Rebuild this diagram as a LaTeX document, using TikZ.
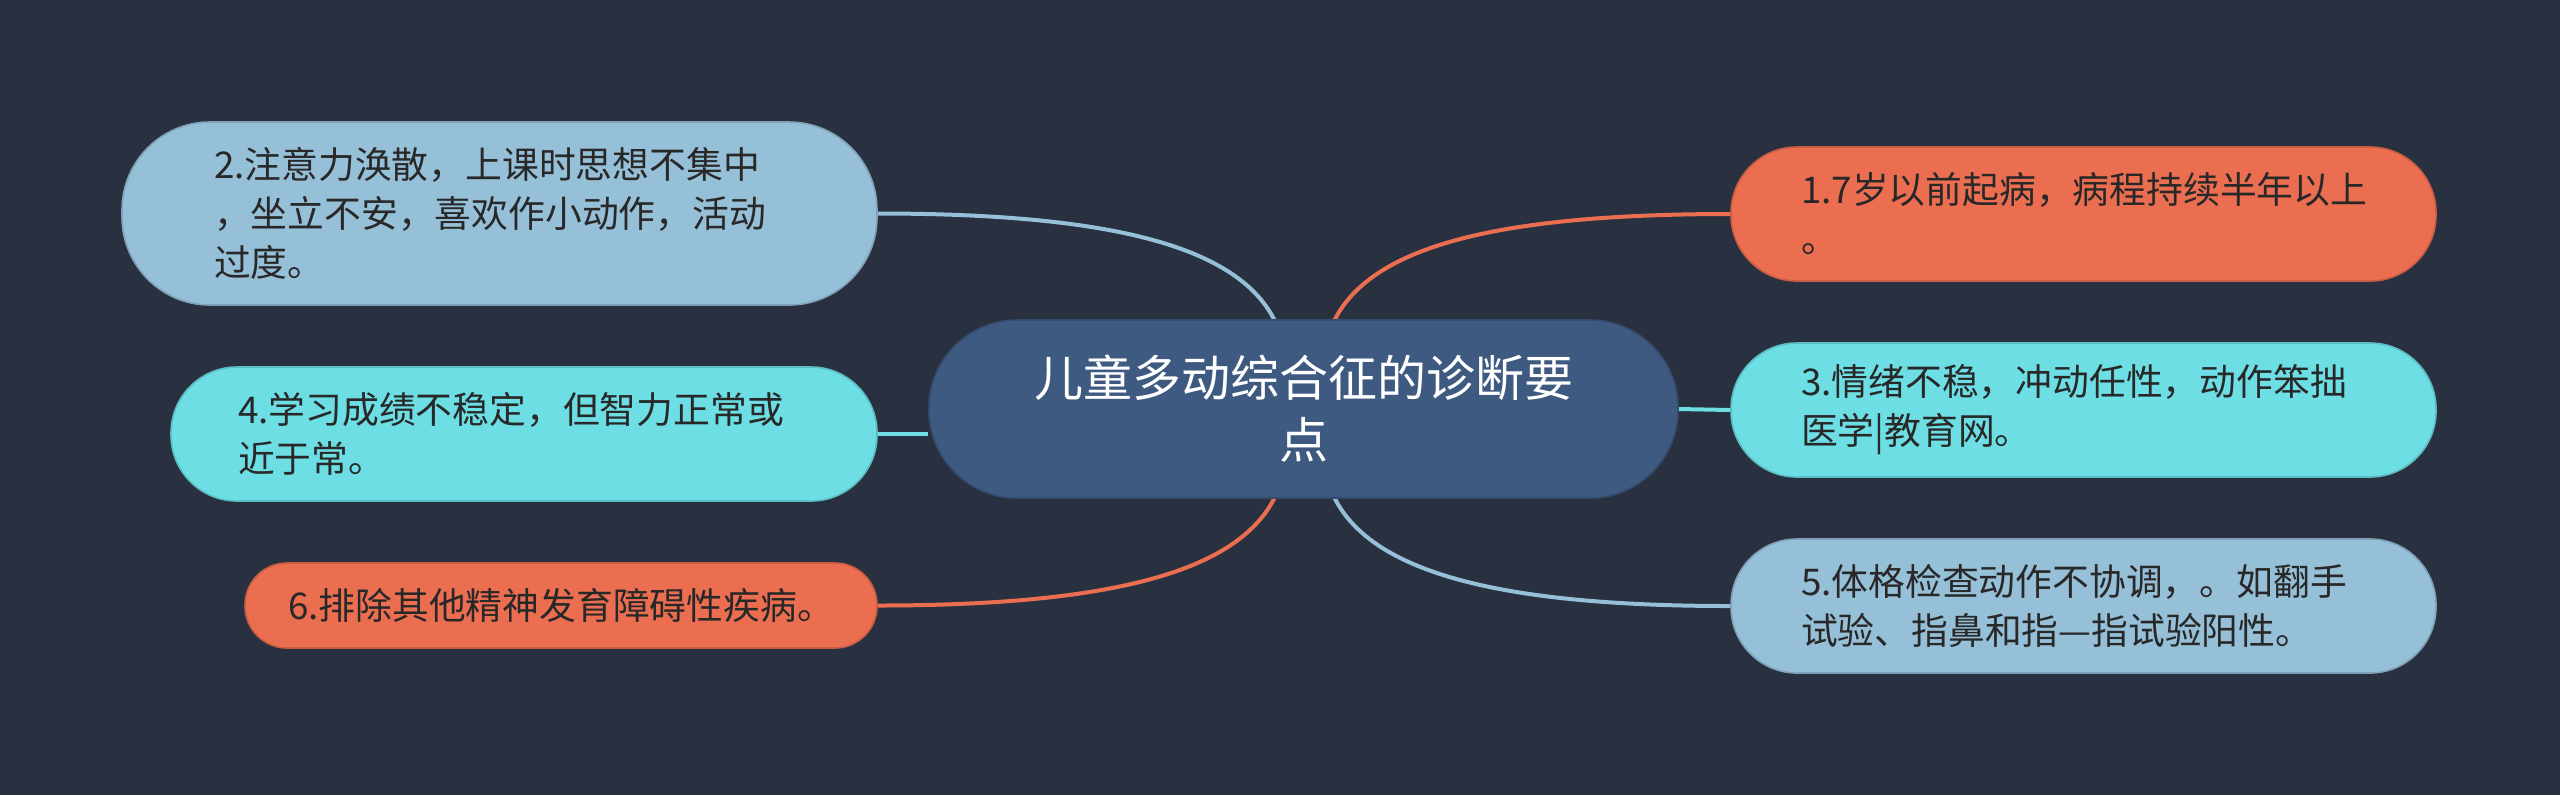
\documentclass[tikz,border=0pt]{standalone}
\usepackage{fontspec}
\setmainfont{Noto Sans CJK SC}
\usetikzlibrary{calc}
\definecolor{bgc}{RGB}{41,49,65}
\definecolor{ctrc}{RGB}{62,90,128}
\definecolor{orgc}{RGB}{236,110,80}
\definecolor{cync}{RGB}{108,222,228}
\definecolor{lblc}{RGB}{150,191,216}
\definecolor{txtc}{RGB}{40,40,40}
\pgfdeclarelayer{bglayer}
\pgfdeclarelayer{edgelayer}
\pgfsetlayers{bglayer,edgelayer,main}
\tikzset{
  leaf/.style={rectangle, text=txtc, align=left, inner ysep=0pt,
    font=\fontsize{9.2}{12.25}\selectfont, line width=0.4pt},
  big/.style={leaf, minimum width=176.25pt, minimum height=33.5pt,
    text width=141.25pt, inner xsep=17.5pt, rounded corners=16.5pt},
  hub/.style={rectangle, fill=ctrc, draw=ctrc!85!black, line width=0.4pt, text=white,
    align=center, minimum width=187.25pt, minimum height=44.5pt,
    rounded corners=22pt, font=\fontsize{12.25}{15.5}\selectfont},
  link/.style={line width=1pt}
}
\begin{document}
\begin{tikzpicture}[x=0.25pt,y=-0.25pt]
\begin{pgfonlayer}{bglayer}
\fill[bgc] (0,0) rectangle (2560,795);
\end{pgfonlayer}
\useasboundingbox (0,0) rectangle (2560,795);

\node[hub] (c) at (1303.5,409) {儿童多动综合征的诊断要\\点};

\node[leaf, fill=lblc, draw=lblc!85!black, minimum width=188.75pt, minimum height=45.75pt,
  text width=142.75pt, inner xsep=23pt, rounded corners=22pt] (n2) at (499.5,213.5)
  {2.注意力涣散，上课时思想不集中\\，坐立不安，喜欢作小动作，活动\\过度。};
\node[leaf, big, fill=cync, draw=cync!85!black, minimum width=176.5pt, text width=143pt,
  inner xsep=16.75pt] (n4) at (524,434)
  {4.学习成绩不稳定，但智力正常或\\近于常。};
\node[leaf, fill=orgc, draw=orgc!85!black, align=center, minimum width=158pt,
  minimum height=21.25pt, rounded corners=10.5pt] (n6) at (561,605.5)
  {6.排除其他精神发育障碍性疾病。};

\node[big, fill=orgc, draw=orgc!85!black] (n1) at (2083.5,214)
  {1.7岁以前起病，病程持续半年以上\\。};
\node[big, fill=cync, draw=cync!85!black] (n3) at (2083.5,410)
  {3.情绪不稳，冲动任性，动作笨拙\\医学|教育网。};
\node[big, fill=lblc, draw=lblc!85!black] (n5) at (2083.5,606)
  {5.体格检查动作不协调，。如翻手\\试验、指鼻和指—指试验阳性。};

\coordinate (ctl) at ($(c.north)+(-27.5,4)$);
\coordinate (ctr) at ($(c.north)+(29.5,4)$);
\coordinate (cbl) at ($(c.south)+(-27.5,-4)$);
\coordinate (cbr) at ($(c.south)+(29.5,-4)$);

\begin{pgfonlayer}{edgelayer}
\draw[link, lblc] (n2.east) .. controls +(240,0) and +(-35,-75) .. (ctl);
\draw[link, orgc] (ctr) .. controls +(35,-75) and +(-240,0) .. (n1.west);
\draw[link, orgc] (n6.east) .. controls +(240,0) and +(-35,75) .. (cbl);
\draw[link, lblc] (cbr) .. controls +(35,75) and +(-240,0) .. (n5.west);
\draw[link, cync] (c.east) -- (n3.west);
\draw[link, cync] (n4.east) -- (n4.east -| c.west);
\end{pgfonlayer}
\end{tikzpicture}
\end{document}
